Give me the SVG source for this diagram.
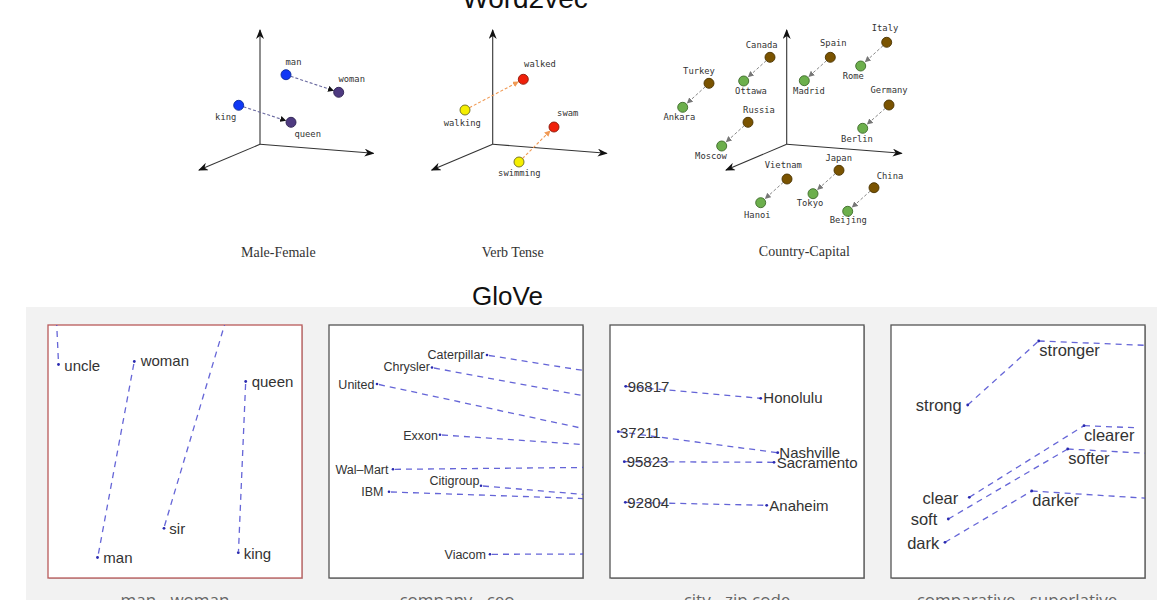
<svg xmlns="http://www.w3.org/2000/svg" width="1170" height="600" viewBox="0 0 1170 600">
<style>
.title{font-family:"Liberation Sans",Arial,sans-serif;fill:#111}
.axis{stroke:#333;stroke-width:1.1;fill:none}
.mono{font-family:"DejaVu Sans Mono","Liberation Mono",monospace;font-size:8.8px;fill:#333;text-anchor:middle}
.cap{font-family:"Liberation Serif","Times New Roman",serif;font-size:14px;fill:#333;text-anchor:middle}
.dot{stroke-width:0.9}
.blue{fill:#1038f5;stroke:#0a2a9a}
.purple{fill:#4e3a80;stroke:#2d2050}
.red{fill:#f0200a;stroke:#8a1a0a}
.yellow{fill:#f5ef00;stroke:#6a6a20}
.brown{fill:#7a5300;stroke:#4a3300}
.green{fill:#6caf4c;stroke:#3d6a2a}
.d-mf{stroke:#6a6aa0;stroke-width:1.1;stroke-dasharray:3 2;fill:none}
.d-vt{stroke:#f09a55;stroke-width:1.1;stroke-dasharray:3 2;fill:none}
.d-cc{stroke:#888;stroke-width:1;stroke-dasharray:3 2;fill:none}
.box{fill:#fff;stroke:#555;stroke-width:1.3}
.gl{stroke:#4a4ad0;stroke-width:1.3;stroke-dasharray:6 5;fill:none;opacity:0.85}
.pt{fill:#2a2ab0}
.lbl{font-family:"Liberation Sans",Arial,sans-serif;fill:#333}
.gcap{font-family:"Open Sans","Liberation Sans",sans-serif;font-size:17px;fill:#666;text-anchor:middle}
</style>
<defs>
<marker id="ax" viewBox="0 0 10 8" refX="9" refY="4" markerWidth="10" markerHeight="8" markerUnits="userSpaceOnUse" orient="auto">
<path d="M0,0 L10,4 L0,8 L3,4 z" fill="#111"/>
</marker>
<marker id="amf" viewBox="0 0 6 6" refX="6" refY="3" markerWidth="6" markerHeight="6" markerUnits="userSpaceOnUse" orient="auto">
<path d="M0,0 L6,3 L0,6 z" fill="#111"/>
</marker>
<marker id="avt" viewBox="0 0 6 6" refX="6" refY="3" markerWidth="6" markerHeight="6" markerUnits="userSpaceOnUse" orient="auto">
<path d="M0,0 L6,3 L0,6 z" fill="#f09a55"/>
</marker>
<marker id="acc" viewBox="0 0 6 6" refX="6" refY="3" markerWidth="6" markerHeight="6" markerUnits="userSpaceOnUse" orient="auto">
<path d="M0,0 L6,3 L0,6 z" fill="#777"/>
</marker>
<clipPath id="c1"><rect x="48" y="325" width="254" height="253"/></clipPath>
<clipPath id="c2"><rect x="329" y="325" width="254" height="253"/></clipPath>
<clipPath id="c3"><rect x="610" y="325" width="254" height="253"/></clipPath>
<clipPath id="c4"><rect x="891" y="325" width="254" height="253"/></clipPath>
</defs>
<rect width="1170" height="600" fill="#fff"/>

<text class="title" x="525" y="8" font-size="28" text-anchor="middle">Word2vec</text>

<g id="axes-male-female">
<line class="axis" x1="260" y1="144.3" x2="260" y2="30" marker-end="url(#ax)"/>
<line class="axis" x1="260" y1="144.3" x2="373.5" y2="153.3" marker-end="url(#ax)"/>
<line class="axis" x1="260" y1="144.3" x2="199" y2="170" marker-end="url(#ax)"/>
</g>
<g id="axes-verb-tense">
<line class="axis" x1="492.7" y1="144.3" x2="492.7" y2="30" marker-end="url(#ax)"/>
<line class="axis" x1="492.7" y1="144.3" x2="606.7" y2="153.3" marker-end="url(#ax)"/>
<line class="axis" x1="492.7" y1="144.3" x2="431.7" y2="170" marker-end="url(#ax)"/>
</g>
<g id="axes-country-capital">
<line class="axis" x1="786.7" y1="144.3" x2="786.7" y2="30" marker-end="url(#ax)"/>
<line class="axis" x1="786.7" y1="144.3" x2="901.7" y2="153.3" marker-end="url(#ax)"/>
<line class="axis" x1="786.7" y1="144.3" x2="726" y2="170" marker-end="url(#ax)"/>
</g>

<g id="connectors-word2vec">
<line class="d-mf" x1="290.7" y1="76.3" x2="334" y2="90.7" marker-end="url(#amf)"/>
<line class="d-mf" x1="243.5" y1="106.8" x2="286.2" y2="120.8" marker-end="url(#amf)"/>
<line class="d-vt" x1="469.4" y1="107.7" x2="518.9" y2="81.6" marker-end="url(#avt)"/>
<line class="d-vt" x1="522.5" y1="158.5" x2="550.5" y2="130.5" marker-end="url(#avt)"/>
<line class="d-cc" x1="883" y1="45.7" x2="864.8" y2="62.3" marker-end="url(#acc)"/>
<line class="d-cc" x1="826.6" y1="60.6" x2="808.4" y2="77" marker-end="url(#acc)"/>
<line class="d-cc" x1="766.3" y1="60.6" x2="747.8" y2="77.3" marker-end="url(#acc)"/>
<line class="d-cc" x1="705.3" y1="86.7" x2="686.8" y2="103.6" marker-end="url(#acc)"/>
<line class="d-cc" x1="744.3" y1="125.6" x2="725.8" y2="142.3" marker-end="url(#acc)"/>
<line class="d-cc" x1="885.3" y1="108.3" x2="866.8" y2="124.6" marker-end="url(#acc)"/>
<line class="d-cc" x1="783.3" y1="182.3" x2="764.8" y2="199" marker-end="url(#acc)"/>
<line class="d-cc" x1="835.3" y1="173.6" x2="817.1" y2="190" marker-end="url(#acc)"/>
<line class="d-cc" x1="870.3" y1="191" x2="851.8" y2="207.6" marker-end="url(#acc)"/>
</g>

<g id="n-man"><circle class="dot blue" cx="286" cy="74.7" r="5"/><text class="mono" x="293.5" y="65">man</text></g>
<g id="n-woman"><circle class="dot purple" cx="338.7" cy="92.3" r="5"/><text class="mono" x="351.7" y="82.3">woman</text></g>
<g id="n-king"><circle class="dot blue" cx="238.7" cy="105.3" r="5"/><text class="mono" x="225.7" y="120">king</text></g>
<g id="n-queen"><circle class="dot purple" cx="291" cy="122.3" r="5"/><text class="mono" x="307.7" y="136.7">queen</text></g>
<text class="cap" x="278.3" y="256.7">Male-Female</text>

<g id="n-walked"><circle class="dot red" cx="523.3" cy="79.3" r="5"/><text class="mono" x="540" y="66.7">walked</text></g>
<g id="n-walking"><circle class="dot yellow" cx="465" cy="110" r="5"/><text class="mono" x="462.3" y="125.7">walking</text></g>
<g id="n-swam"><circle class="dot red" cx="554" cy="127" r="5"/><text class="mono" x="567.7" y="115.7">swam</text></g>
<g id="n-swimming"><circle class="dot yellow" cx="519" cy="162" r="5"/><text class="mono" x="519.3" y="175.7">swimming</text></g>
<text class="cap" x="512.7" y="256.7">Verb Tense</text>

<g id="n-italy"><circle class="dot brown" cx="886.7" cy="42.3" r="5"/><text class="mono" x="885" y="31">Italy</text></g>
<g id="n-rome"><circle class="dot green" cx="860.7" cy="66" r="5"/><text class="mono" x="853.3" y="79">Rome</text></g>
<g id="n-spain"><circle class="dot brown" cx="830.3" cy="57.3" r="5"/><text class="mono" x="833.3" y="45.7">Spain</text></g>
<g id="n-madrid"><circle class="dot green" cx="804.3" cy="80.7" r="5"/><text class="mono" x="809" y="94.3">Madrid</text></g>
<g id="n-canada"><circle class="dot brown" cx="770" cy="57.3" r="5"/><text class="mono" x="761.7" y="48.3">Canada</text></g>
<g id="n-ottawa"><circle class="dot green" cx="743.7" cy="81" r="5"/><text class="mono" x="751" y="94.3">Ottawa</text></g>
<g id="n-turkey"><circle class="dot brown" cx="709" cy="83.3" r="5"/><text class="mono" x="699" y="74">Turkey</text></g>
<g id="n-ankara"><circle class="dot green" cx="682.7" cy="107.3" r="5"/><text class="mono" x="679.3" y="120">Ankara</text></g>
<g id="n-russia"><circle class="dot brown" cx="748" cy="122.3" r="5"/><text class="mono" x="759" y="113.3">Russia</text></g>
<g id="n-moscow"><circle class="dot green" cx="721.7" cy="146" r="5"/><text class="mono" x="711" y="159.3">Moscow</text></g>
<g id="n-germany"><circle class="dot brown" cx="889" cy="105" r="5"/><text class="mono" x="889" y="93.3">Germany</text></g>
<g id="n-berlin"><circle class="dot green" cx="862.7" cy="128.3" r="5"/><text class="mono" x="857" y="141.7">Berlin</text></g>
<g id="n-vietnam"><circle class="dot brown" cx="787" cy="179" r="5"/><text class="mono" x="783.3" y="167.7">Vietnam</text></g>
<g id="n-hanoi"><circle class="dot green" cx="760.7" cy="202.7" r="5"/><text class="mono" x="757.3" y="218.3">Hanoi</text></g>
<g id="n-japan"><circle class="dot brown" cx="839" cy="170.3" r="5"/><text class="mono" x="838.7" y="160.7">Japan</text></g>
<g id="n-tokyo"><circle class="dot green" cx="813" cy="193.7" r="5"/><text class="mono" x="810" y="206">Tokyo</text></g>
<g id="n-china"><circle class="dot brown" cx="874" cy="187.7" r="5"/><text class="mono" x="890" y="179">China</text></g>
<g id="n-beijing"><circle class="dot green" cx="847.7" cy="211.3" r="5"/><text class="mono" x="848.3" y="223.3">Beijing</text></g>
<text class="cap" x="804.3" y="256">Country-Capital</text>

<text class="title" x="507.5" y="305" font-size="26" text-anchor="middle">GloVe</text>
<rect x="26" y="307" width="1131" height="293" fill="#f2f2f2"/>

<rect x="49" y="326" width="254" height="253" fill="#999" opacity="0.5"/>
<rect x="48" y="325" width="254" height="253" fill="#fff" stroke="#b85a5a" stroke-width="1.3"/>
<rect x="330" y="326" width="254" height="253" fill="#777" opacity="0.6"/>
<rect class="box" x="329" y="325" width="254" height="253"/>
<rect x="611" y="326" width="254" height="253" fill="#777" opacity="0.6"/>
<rect class="box" x="610" y="325" width="254" height="253"/>
<rect x="892" y="326" width="254" height="253" fill="#777" opacity="0.6"/>
<rect class="box" x="891" y="325" width="254" height="253"/>

<g id="connectors-glove">
<g clip-path="url(#c1)">
<line class="gl" x1="56.5" y1="320" x2="58.5" y2="363"/>
<line class="gl" x1="133.8" y1="364" x2="98" y2="556"/>
<line class="gl" x1="226" y1="320" x2="164.5" y2="526"/>
<line class="gl" x1="245.6" y1="384" x2="238.5" y2="551"/>
</g>
<g clip-path="url(#c2)">
<line class="gl" x1="489" y1="355.5" x2="590" y2="371.5"/>
<line class="gl" x1="434" y1="368" x2="590" y2="397"/>
<line class="gl" x1="379" y1="384.5" x2="590" y2="430"/>
<line class="gl" x1="442" y1="435" x2="590" y2="445"/>
<line class="gl" x1="395" y1="469.3" x2="590" y2="467.4"/>
<line class="gl" x1="483" y1="486" x2="590" y2="495"/>
<line class="gl" x1="391" y1="492" x2="590" y2="498.8"/>
<line class="gl" x1="492" y1="554.3" x2="590" y2="554"/>
</g>
<g clip-path="url(#c3)">
<line class="gl" x1="625.7" y1="386.3" x2="760.7" y2="398.3"/>
<line class="gl" x1="618.3" y1="431.7" x2="777.7" y2="452.7"/>
<line class="gl" x1="624.3" y1="461.7" x2="774" y2="462.3"/>
<line class="gl" x1="625.3" y1="502.3" x2="766.7" y2="505.3"/>
</g>
<g clip-path="url(#c4)">
<line class="gl" x1="967.7" y1="405" x2="1038.7" y2="341"/>
<line class="gl" x1="1038.7" y1="341" x2="1150" y2="345.5"/>
<line class="gl" x1="969.3" y1="497.3" x2="1084" y2="425.7"/>
<line class="gl" x1="1084" y1="425.7" x2="1135" y2="427.7"/>
<line class="gl" x1="948.3" y1="519" x2="1067.7" y2="449"/>
<line class="gl" x1="1067.7" y1="449" x2="1150" y2="453.5"/>
<line class="gl" x1="945" y1="542.3" x2="1031.7" y2="491"/>
<line class="gl" x1="1031.7" y1="491" x2="1150" y2="498.5"/>
</g>
</g>

<g id="g-uncle"><circle class="pt" cx="58.5" cy="364.5" r="1.4"/><text class="lbl" font-size="15" x="64.3" y="370.5">uncle</text></g>
<g id="g-woman"><circle class="pt" cx="134.3" cy="361.5" r="1.4"/><text class="lbl" font-size="15" x="140.7" y="366">woman</text></g>
<g id="g-man"><circle class="pt" cx="97.5" cy="557.5" r="1.4"/><text class="lbl" font-size="15" x="103.3" y="563">man</text></g>
<g id="g-sir"><circle class="pt" cx="164" cy="528.3" r="1.4"/><text class="lbl" font-size="15" x="169.3" y="533.5">sir</text></g>
<g id="g-queen"><circle class="pt" cx="245.7" cy="381.5" r="1.4"/><text class="lbl" font-size="15" x="251.7" y="386.5">queen</text></g>
<g id="g-king"><circle class="pt" cx="238.3" cy="552.7" r="1.4"/><text class="lbl" font-size="15" x="243.7" y="558.5">king</text></g>
<text class="gcap" x="175" y="606">man - woman</text>

<g id="g-caterpillar"><circle class="pt" cx="487" cy="355" r="1.3"/><text class="lbl" font-size="12.5" x="484.5" y="358.5" text-anchor="end">Caterpillar</text></g>
<g id="g-chrysler"><circle class="pt" cx="432" cy="367.5" r="1.3"/><text class="lbl" font-size="12.5" x="430" y="371" text-anchor="end">Chrysler</text></g>
<g id="g-united"><circle class="pt" cx="377" cy="384" r="1.3"/><text class="lbl" font-size="12.5" x="374.5" y="388.5" text-anchor="end">United</text></g>
<g id="g-exxon"><circle class="pt" cx="440" cy="434.7" r="1.3"/><text class="lbl" font-size="12.5" x="438" y="439.5" text-anchor="end">Exxon</text></g>
<g id="g-walmart"><circle class="pt" cx="393" cy="469.3" r="1.3"/><text class="lbl" font-size="12.5" x="388.5" y="474" text-anchor="end">Wal–Mart</text></g>
<g id="g-citigroup"><circle class="pt" cx="481" cy="485.7" r="1.3"/><text class="lbl" font-size="12.5" x="479.5" y="485" text-anchor="end">Citigroup</text></g>
<g id="g-ibm"><circle class="pt" cx="389" cy="491.7" r="1.3"/><text class="lbl" font-size="12.5" x="383.5" y="496" text-anchor="end">IBM</text></g>
<g id="g-viacom"><circle class="pt" cx="490" cy="554.3" r="1.3"/><text class="lbl" font-size="12.5" x="486" y="559" text-anchor="end">Viacom</text></g>
<text class="gcap" x="457" y="606">company - ceo</text>

<g id="g-96817"><circle class="pt" cx="625.7" cy="386.3" r="1.4"/><text class="lbl" font-size="15" x="627.7" y="392">96817</text></g>
<g id="g-honolulu"><circle class="pt" cx="760.7" cy="398.3" r="1.4"/><text class="lbl" font-size="15" x="763.3" y="403">Honolulu</text></g>
<g id="g-37211"><circle class="pt" cx="618.3" cy="431.7" r="1.4"/><text class="lbl" font-size="15" x="620" y="437.5">37211</text></g>
<g id="g-nashville"><circle class="pt" cx="777.7" cy="452.7" r="1.4"/><text class="lbl" font-size="15" x="779.3" y="458">Nashville</text></g>
<g id="g-95823"><circle class="pt" cx="624.3" cy="461.7" r="1.4"/><text class="lbl" font-size="15" x="626.7" y="467">95823</text></g>
<g id="g-sacramento"><circle class="pt" cx="774" cy="462.3" r="1.4"/><text class="lbl" font-size="15" x="776.7" y="467.5">Sacramento</text></g>
<g id="g-92804"><circle class="pt" cx="625.3" cy="502.3" r="1.4"/><text class="lbl" font-size="15" x="627.3" y="507.5">92804</text></g>
<g id="g-anaheim"><circle class="pt" cx="766.7" cy="505.3" r="1.4"/><text class="lbl" font-size="15" x="769.3" y="510.5">Anaheim</text></g>
<text class="gcap" x="737" y="606">city - zip code</text>

<g id="g-strong"><circle class="pt" cx="967.7" cy="405" r="1.4"/><text class="lbl" font-size="16.5" x="961.7" y="410.5" text-anchor="end">strong</text></g>
<g id="g-stronger"><circle class="pt" cx="1038.7" cy="341" r="1.4"/><text class="lbl" font-size="16.5" x="1039.3" y="355.5">stronger</text></g>
<g id="g-clear"><circle class="pt" cx="969.3" cy="497.3" r="1.4"/><text class="lbl" font-size="16.5" x="958.3" y="503.5" text-anchor="end">clear</text></g>
<g id="g-clearer"><circle class="pt" cx="1084" cy="425.7" r="1.4"/><text class="lbl" font-size="16.5" x="1084" y="440.5">clearer</text></g>
<g id="g-soft"><circle class="pt" cx="948.3" cy="519" r="1.4"/><text class="lbl" font-size="16.5" x="937.3" y="525" text-anchor="end">soft</text></g>
<g id="g-softer"><circle class="pt" cx="1067.7" cy="449" r="1.4"/><text class="lbl" font-size="16.5" x="1068.3" y="463.5">softer</text></g>
<g id="g-dark"><circle class="pt" cx="945" cy="542.3" r="1.4"/><text class="lbl" font-size="16.5" x="939.3" y="548.5" text-anchor="end">dark</text></g>
<g id="g-darker"><circle class="pt" cx="1031.7" cy="491" r="1.4"/><text class="lbl" font-size="16.5" x="1032.3" y="505.5">darker</text></g>
<text class="gcap" x="1017" y="606">comparative - superlative</text>
</svg>
